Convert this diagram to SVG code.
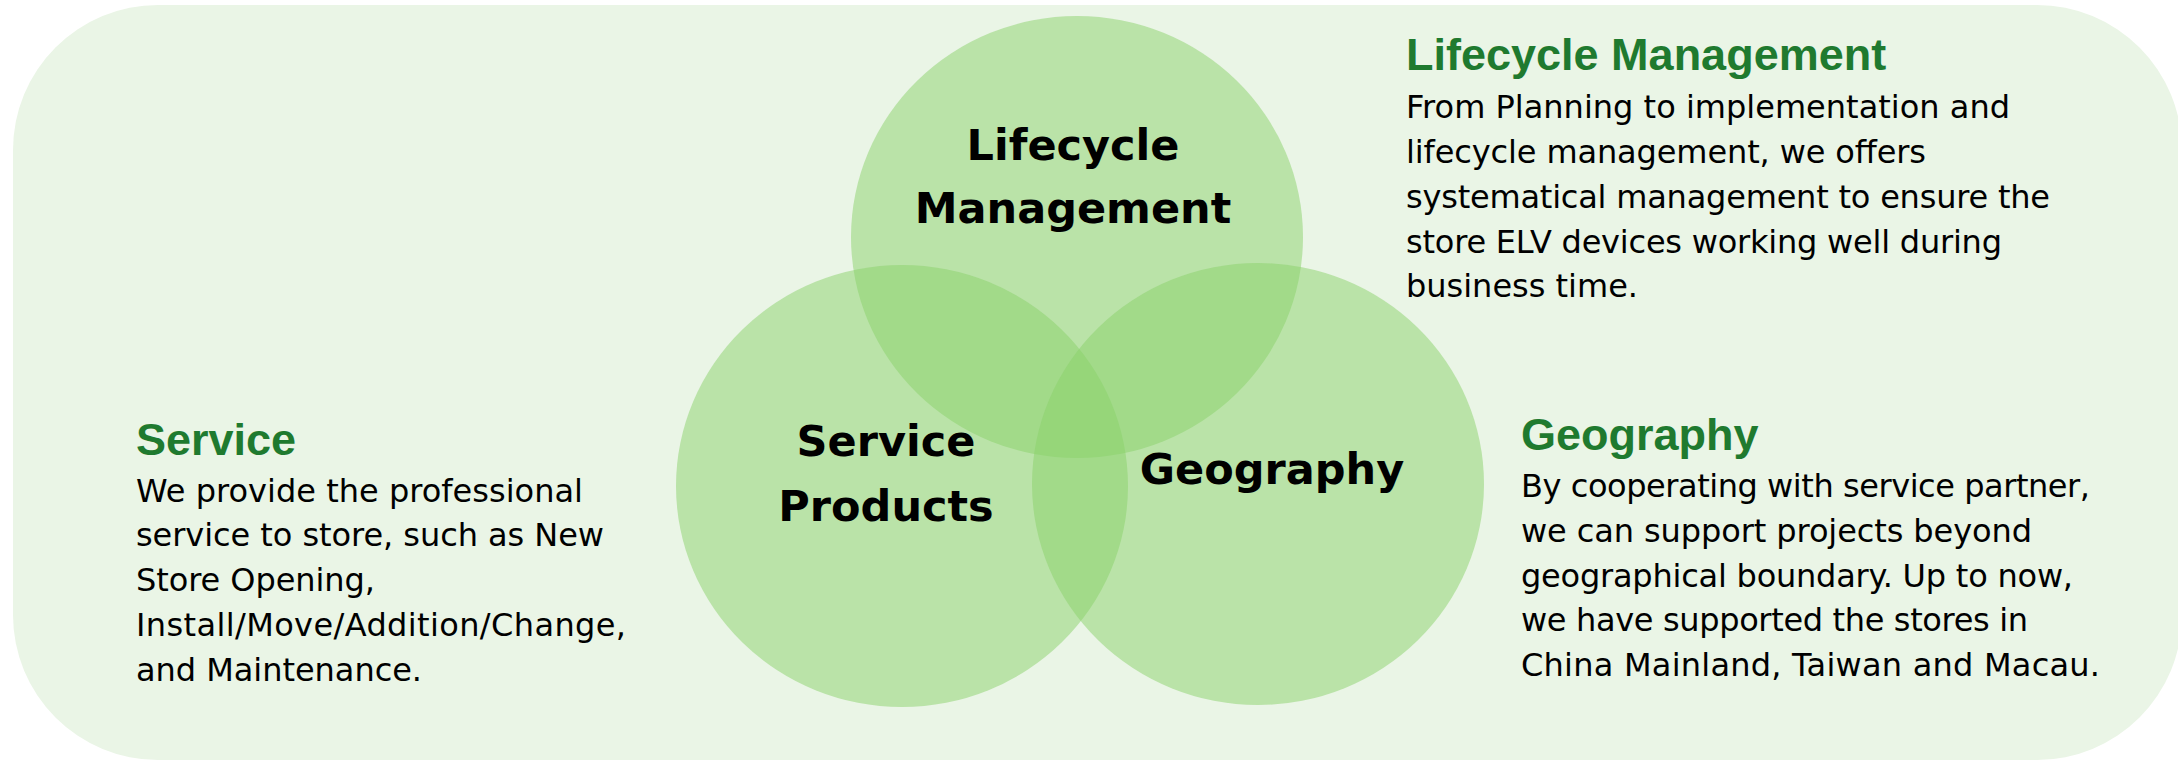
<svg xmlns="http://www.w3.org/2000/svg" width="2178" height="761" viewBox="0 0 2178 761">
  <style>
    .bg { fill: #EAF5E6; }
    .circ { fill: #8AD26A; fill-opacity: 0.5; }
    .label { font-family: "DejaVu Sans", "Liberation Sans", sans-serif; font-weight: bold; font-size: 43px; fill: #000; text-anchor: middle; }
    .head { font-family: "Liberation Sans", Arial, sans-serif; font-weight: bold; font-size: 45px; fill: #1F7A2F; }
    .body { font-family: "DejaVu Sans", "Liberation Sans", sans-serif; font-size: 32px; fill: #000; }
  </style>
  <rect class="bg" x="13" y="5" width="2169" height="755" rx="145" ry="145"/>

  <g id="node-lifecycle">
    <ellipse class="circ" cx="1077" cy="237" rx="226" ry="221"/>
    <text class="label" x="1073" y="160">Lifecycle</text>
    <text class="label" x="1073" y="223">Management</text>
  </g>
  <g id="node-service-products">
    <ellipse class="circ" cx="902" cy="486" rx="226" ry="221"/>
    <text class="label" x="886" y="456">Service</text>
    <text class="label" x="886" y="521">Products</text>
  </g>
  <g id="node-geography">
    <ellipse class="circ" cx="1258" cy="484" rx="226" ry="221"/>
    <text class="label" x="1272" y="484">Geography</text>
  </g>

  <g id="connectors"></g>

  <g id="text-lifecycle">
    <text class="head" x="1406" y="70">Lifecycle Management</text>
    <text class="body" x="1406" y="118" textLength="604" lengthAdjust="spacing">From Planning to implementation and</text>
    <text class="body" x="1406" y="163" textLength="520" lengthAdjust="spacing">lifecycle management, we offers</text>
    <text class="body" x="1406" y="208" textLength="644" lengthAdjust="spacing">systematical management to ensure the</text>
    <text class="body" x="1406" y="253" textLength="596" lengthAdjust="spacing">store ELV devices working well during</text>
    <text class="body" x="1406" y="297" textLength="232" lengthAdjust="spacing">business time.</text>
  </g>

  <g id="text-service">
    <text class="head" x="136" y="455">Service</text>
    <text class="body" x="136" y="502" textLength="447" lengthAdjust="spacing">We provide the professional</text>
    <text class="body" x="136" y="546" textLength="468" lengthAdjust="spacing">service to store, such as New</text>
    <text class="body" x="136" y="591" textLength="239" lengthAdjust="spacing">Store Opening,</text>
    <text class="body" x="136" y="636" textLength="490" lengthAdjust="spacing">Install/Move/Addition/Change,</text>
    <text class="body" x="136" y="681" textLength="286" lengthAdjust="spacing">and Maintenance.</text>
  </g>

  <g id="text-geography">
    <text class="head" x="1521" y="450">Geography</text>
    <text class="body" x="1521" y="497" textLength="569" lengthAdjust="spacing">By cooperating with service partner,</text>
    <text class="body" x="1521" y="542" textLength="511" lengthAdjust="spacing">we can support projects beyond</text>
    <text class="body" x="1521" y="587" textLength="552" lengthAdjust="spacing">geographical boundary. Up to now,</text>
    <text class="body" x="1521" y="631" textLength="507" lengthAdjust="spacing">we have supported the stores in</text>
    <text class="body" x="1521" y="676" textLength="579" lengthAdjust="spacing">China Mainland, Taiwan and Macau.</text>
  </g>
</svg>
